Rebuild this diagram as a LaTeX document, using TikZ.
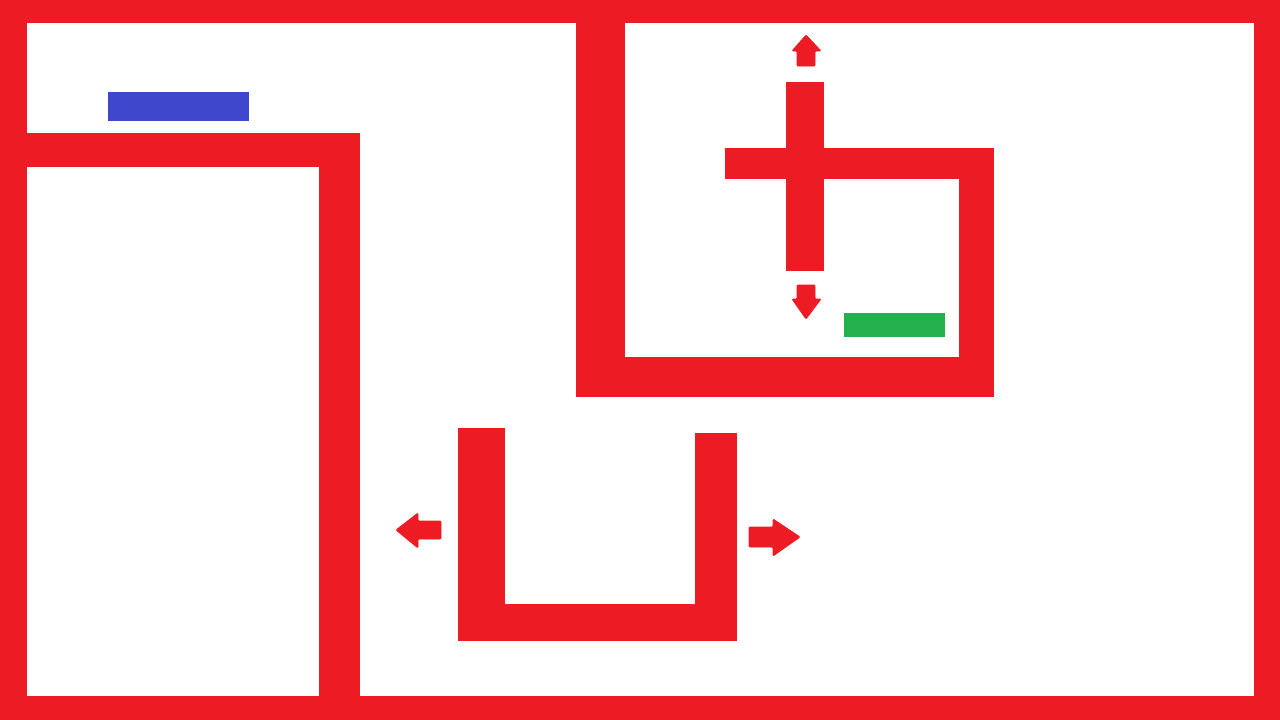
\documentclass[tikz,border=0pt]{standalone}
\definecolor{wallred}{HTML}{ED1C24}
\definecolor{padblue}{HTML}{3F48CC}
\definecolor{padgreen}{HTML}{22B14C}
\tikzset{
  wall/.style={fill=wallred, draw=none},
  arrowshape/.style={fill=wallred, draw=wallred, line width=0.8pt, line join=round, rounded corners=1pt},
}
\begin{document}
\begin{tikzpicture}[x=1pt,y=-1pt]
\useasboundingbox (0,0) rectangle (1280,720);
\fill[white] (0,0) rectangle (1280,720);
% outer frame
\fill[wall] (0,0) rectangle (1280,23);
\fill[wall] (0,696) rectangle (1280,720);
\fill[wall] (0,0) rectangle (27,720);
\fill[wall] (1254,0) rectangle (1280,720);
% left structure
\fill[wall] (27,133) rectangle (360,167);
\fill[wall] (319,133) rectangle (360,696);
% blue pad
\fill[padblue] (108,92) rectangle (249,121);
% top middle structure
\fill[wall] (576,23) rectangle (625,397);
\fill[wall] (576,357) rectangle (994,397);
\fill[wall] (959,148) rectangle (994,397);
\fill[wall] (725,148) rectangle (994,179);
\fill[wall] (786,82) rectangle (824,271);
% green pad
\fill[padgreen] (844,313) rectangle (945,337);
% U shape
\fill[wall] (458,428) rectangle (505,641);
\fill[wall] (458,604) rectangle (737,641);
\fill[wall] (695,433) rectangle (737,641);
% arrows
\filldraw[arrowshape] (797,66) -- (797,51) -- (792,51) -- (806,35) -- (821,51) -- (815,51) -- (815,66) -- cycle;
\filldraw[arrowshape] (797,285) -- (815,285) -- (815,299) -- (821,299) -- (806,319) -- (792,299) -- (797,299) -- cycle;
\filldraw[arrowshape] (441,521) -- (418,521) -- (418,513) -- (396,530) -- (418,548) -- (418,539) -- (441,539) -- cycle;
\filldraw[arrowshape] (749,527) -- (773,527) -- (773,519) -- (800,537) -- (773,556) -- (773,547) -- (749,547) -- cycle;
\end{tikzpicture}
\end{document}
